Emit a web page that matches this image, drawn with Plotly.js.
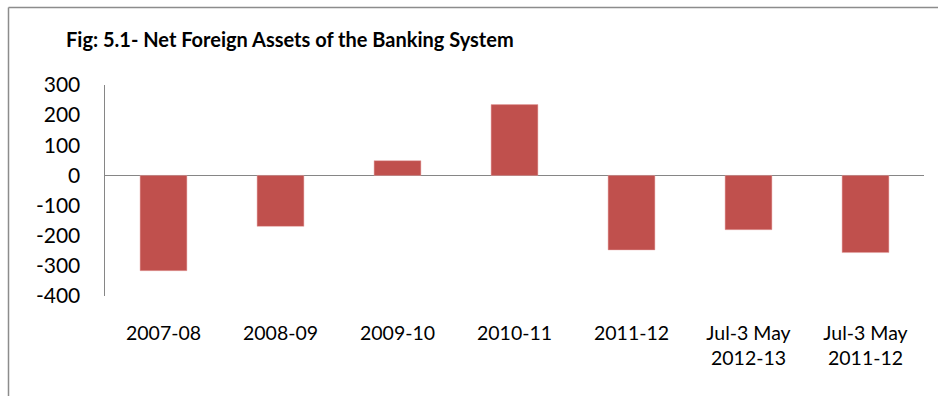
<!DOCTYPE html>
<html>
<head>
<meta charset="utf-8">
<script src="https://cdn.plot.ly/plotly-3.0.1.min.js"></script>
<style>
  html, body { margin: 0; padding: 0; background: #ffffff; }
  #chart { width: 938px; height: 396px; }
</style>
</head>
<body>
<div id="chart"></div>
<script>
const categories = ["2007-08", "2008-09", "2009-10", "2010-11", "2011-12", "Jul-3 May<br>2012-13", "Jul-3 May<br>2011-12"];
const values = [-316, -169, 49, 235, -247, -180, -256];
const yTicks = [300, 200, 100, 0, -100, -200, -300, -400];
const chartTitle = "Fig: 5.1- Net Foreign Assets of the Banking System";

const trace = {
  type: "bar",
  x: categories,
  y: values,
  width: 0.4,
  marker: { color: "#C0504D", line: { color: "rgba(230,160,160,0.8)", width: 0.6 } },
  hoverinfo: "x+y"
};

const plotL = 105, plotR = 924, plotT = 85, plotB = 296;
const W = 938, H = 396;
const pw = plotR - plotL, ph = plotB - plotT;
const px = v => (v - plotL) / pw;
const py = v => (plotB - v) / ph;

const layout = {
  width: W, height: H,
  margin: { l: plotL, r: W - plotR, t: plotT, b: H - plotB, pad: 0 },
  paper_bgcolor: "#ffffff",
  plot_bgcolor: "#ffffff",
  showlegend: false,
  title: {
    text: "<b>" + chartTitle + "</b>",
    x: 66 / W, xanchor: "left", xref: "container",
    y: 1 - 40 / H, yanchor: "middle", yref: "container",
    font: { family: "Lato, sans-serif", size: 20, color: "#000000" }
  },
  xaxis: {
    type: "category",
    showgrid: false, zeroline: false, showline: false,
    ticks: "", ticklabelstandoff: 23,
    tickfont: { family: "Lato, sans-serif", size: 19.5, color: "#000000" },
    fixedrange: true
  },
  yaxis: {
    range: [-400, 300],
    tickvals: yTicks,
    ticktext: yTicks.map(String),
    showgrid: false,
    showline: true, linecolor: "#868686", linewidth: 1.5,
    zeroline: true, zerolinecolor: "#868686", zerolinewidth: 1.5,
    ticks: "", ticklabelstandoff: 19,
    tickfont: { family: "Lato, sans-serif", size: 21, color: "#000000" },
    fixedrange: true
  },
  shapes: [
    { type: "line", xref: "paper", yref: "paper", x0: px(8.5), x1: px(940), y0: py(7.5), y1: py(7.5), line: { color: "#8C8C8C", width: 1.5 } },
    { type: "line", xref: "paper", yref: "paper", x0: px(8.5), x1: px(8.5), y0: py(7.5), y1: py(398), line: { color: "#8C8C8C", width: 1.5 } }
  ]
};

Plotly.newPlot("chart", [trace], layout, { displayModeBar: false, staticPlot: true });
</script>
</body>
</html>
